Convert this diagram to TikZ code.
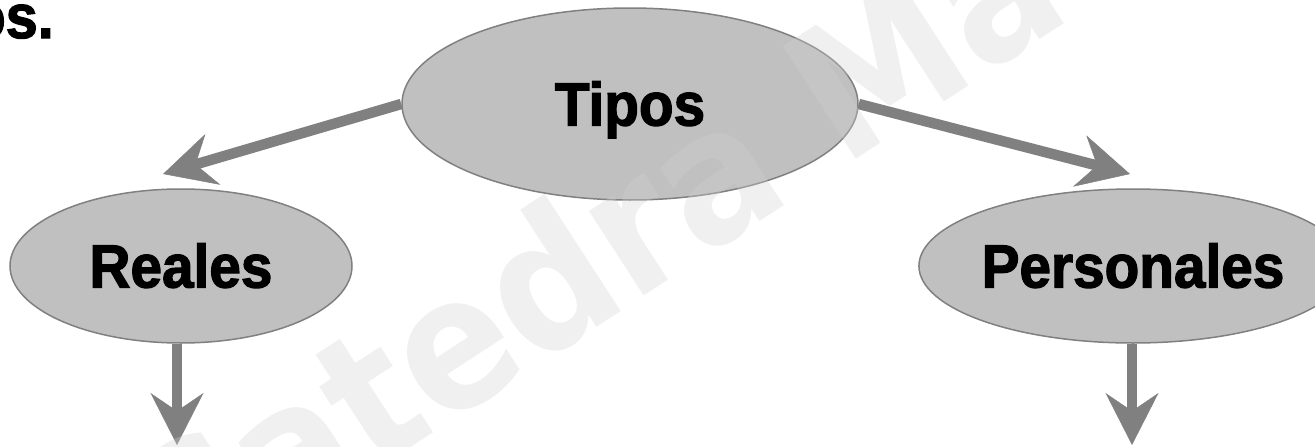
\documentclass[tikz,border=0pt]{standalone}
\usepackage{fontspec}
\setmainfont{Liberation Sans}
\newfontfamily\lblfont{Liberation Sans}[FakeStretch=0.93,FakeBold=2]
\newfontfamily\wmfont{DejaVu Sans}[FakeStretch=0.9]
\usetikzlibrary{arrows.meta,shapes.geometric}
\definecolor{ovalfill}{HTML}{C0C0C0}
\definecolor{ovalline}{HTML}{808080}
\definecolor{linkgray}{HTML}{808080}
\definecolor{wmark}{HTML}{D0D0D0}
\begin{document}
\begin{tikzpicture}[x=1pt,y=-1pt,
  oval/.style={ellipse, draw=ovalline, line width=1.5pt, fill=ovalfill,
    inner sep=0pt, font=\lblfont\bfseries\fontsize{61}{61}\selectfont,
    text height=43pt, text depth=0pt},
  link/.style={draw=linkgray, line width=10.5pt,
    -{Stealth[length=52pt,width=53pt,inset=18pt,line width=0.5pt]}}
]
\useasboundingbox (0,0) rectangle (1315,447);
\clip (0,0) rectangle (1315,447);

% heading, cut at the left edge
\node[anchor=base east, inner sep=0pt,
  font=\lblfont\bfseries\fontsize{62}{62}\selectfont] (ttl) at (54,38) {os.};

% ovals
\node[oval, minimum width=456pt, minimum height=192pt] (tipos) at (630,104) {Tipos};
\node[oval, minimum width=342pt, minimum height=154pt] (reales) at (181,266) {Reales};
\node[oval, minimum width=370pt, minimum height=154pt] (personales) at (1133,266) {Personales};

% free ends of the arrows
\coordinate (rtip) at (163,174);
\coordinate (ptip) at (1130,174);
\coordinate (rdown) at (177,445);
\coordinate (pdown) at (1132,445);

% arrows
\draw[link] (tipos.west) -- (rtip);
\draw[link] (tipos.east) -- (ptip);
\draw[link] (reales.south -| rdown) -- (rdown);
\draw[link] (personales.south -| pdown) -- (pdown);

% translucent watermark laid over the diagram
\node[rotate=33, anchor=base west, text=wmark, text opacity=0.33, inner sep=0pt,
  font=\wmfont\bfseries\fontsize{184}{184}\selectfont] (wm) at (177,600) {Catedra Ma};
\end{tikzpicture}
\end{document}
